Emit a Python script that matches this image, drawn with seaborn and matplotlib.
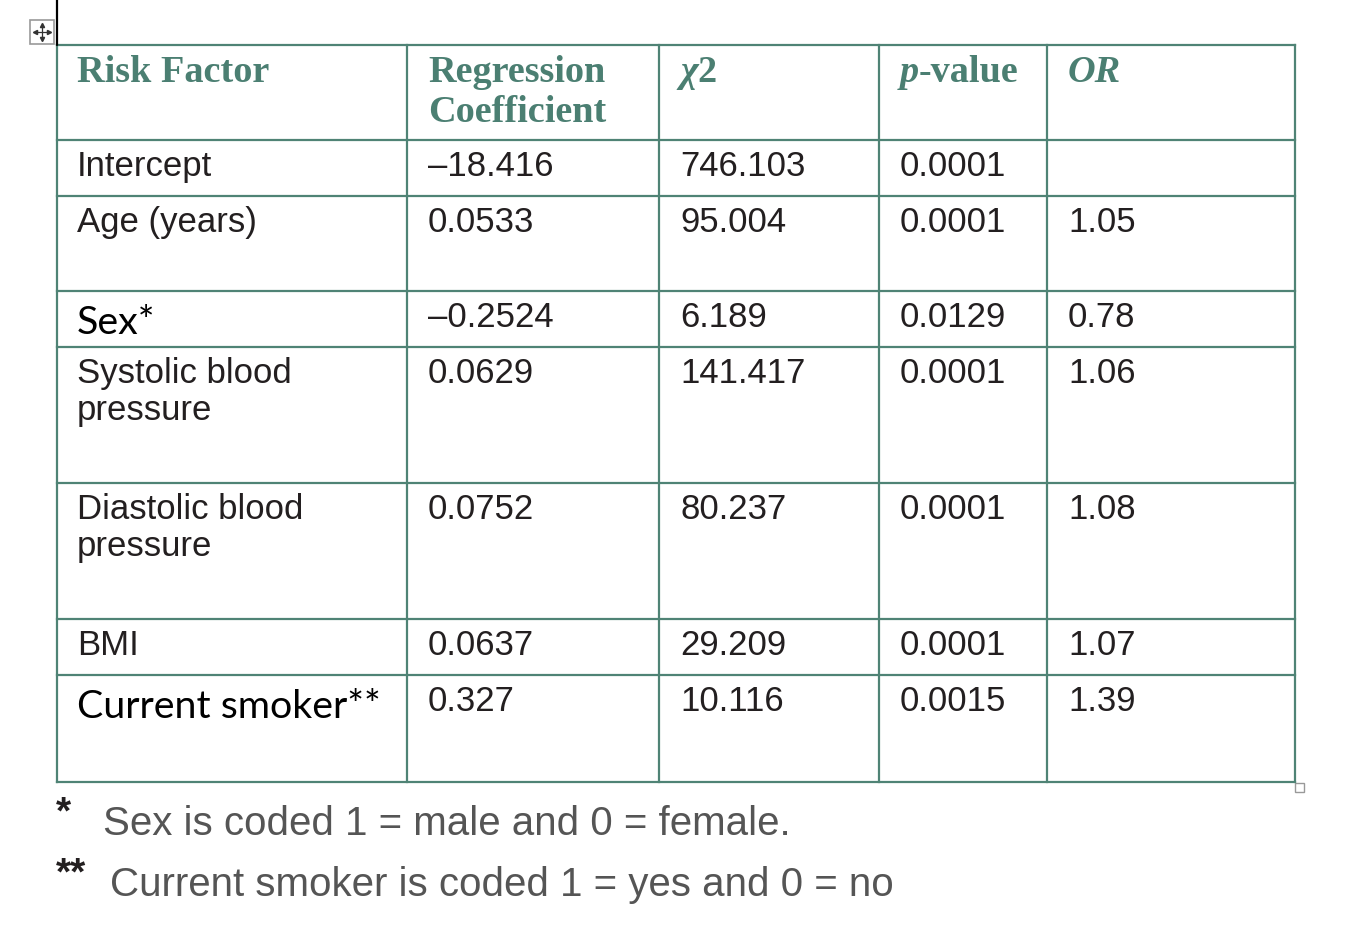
import matplotlib
matplotlib.use("Agg")
import matplotlib.pyplot as plt
import seaborn as sns

# table contents (kept as printed strings so the formatting stays the same)
headers = ["Risk Factor", "Regression\nCoefficient", "χ2", "p-value", "OR"]
risk_factors = ["Intercept", "Age (years)", "Sex*", "Systolic blood\npressure",
                "Diastolic blood\npressure", "BMI", "Current smoker**"]
coefficients = ["–18.416", "0.0533", "–0.2524", "0.0629", "0.0752", "0.0637", "0.327"]
chi_square = ["746.103", "95.004", "6.189", "141.417", "80.237", "29.209", "10.116"]
p_values = ["0.0001", "0.0001", "0.0129", "0.0001", "0.0001", "0.0001", "0.0015"]
odds_ratios = ["", "1.05", "0.78", "1.06", "1.08", "1.07", "1.39"]
footnotes = [("*", "Sex is coded 1 = male and 0 = female."),
             ("**", "Current smoker is coded 1 = yes and 0 = no")]

sns.set_theme(style="white")
plt.rcParams['font.family'] = ['Liberation Sans', 'DejaVu Sans']

teal = "#4b7f72"
grid_col = "#4f8375"
body_col = "#231f20"
note_col = "#555555"

W, H = 1351, 926
fig = plt.figure(figsize=(W / 100, H / 100), dpi=100)
ax = fig.add_axes([0, 0, 1, 1])
ax.set_xlim(0, W)
ax.set_ylim(H, 0)
ax.axis("off")

col_x = [57, 407, 659, 879, 1047, 1295]
row_y = [45, 140, 196, 291, 347, 483, 619, 675, 782]

# grid
for x in col_x:
    ax.plot([x, x], [row_y[0], row_y[-1]], color=grid_col, lw=1.6, solid_capstyle="projecting")
for y in row_y:
    ax.plot([col_x[0], col_x[-1]], [y, y], color=grid_col, lw=1.6, solid_capstyle="projecting")

# move handle and cursor line at the top left
ax.plot([57, 57], [0, 45], color="black", lw=1.6)
ax.add_patch(plt.Rectangle((30, 20), 24, 24, fill=False, ec="#999999", lw=1.2))
ax.plot([35, 49], [32, 32], color="#333333", lw=0.9)
ax.plot([42, 42], [25, 39], color="#333333", lw=0.9)
for mx, my, m in [(35, 32, "<"), (49, 32, ">"), (42, 25, "^"), (42, 39, "v")]:
    ax.plot(mx, my, marker=m, color="#333333", ms=3)
# resize handle at the bottom right
ax.add_patch(plt.Rectangle((1295, 783), 9, 9, fill=False, ec="#999999", lw=1))

renderer = fig.canvas.get_renderer()
inv = ax.transData.inverted()


def draw_runs(x, y, runs, **kw):
    # draw pieces of text one after another on one baseline
    for txt, style in runs:
        t = ax.text(x, y, txt, va="baseline", ha="left", **style, **kw)
        bb = t.get_window_extent(renderer)
        x = inv.transform((bb.x1, bb.y0))[0]


hfont = dict(family=["Liberation Serif", "DejaVu Serif"], fontsize=27.5, color=teal)
bold = dict(fontweight="bold")
bolditalic = dict(fontweight="bold", fontstyle="italic")

# header
hx = [c + 21 for c in col_x[:-1]]
draw_runs(hx[0] - 1, 82, [(headers[0], bold)], **hfont)
for i, line in enumerate(headers[1].split("\n")):
    draw_runs(hx[1], 82 + 40 * i, [(line, bold)], **hfont)
draw_runs(hx[2], 82, [("χ", bolditalic), ("2", bold)], **hfont)
draw_runs(hx[3], 82, [("p", bolditalic), ("-value", bold)], **hfont)
draw_runs(hx[4], 82, [(headers[4], bolditalic)], **hfont)

# body
calibri_like = {"Sex*", "Current smoker**"}
for r in range(len(risk_factors)):
    base = row_y[r + 1] + 36
    name = risk_factors[r]
    if name in calibri_like:
        ax.text(hx[0] - 1, base + 7, name, family=["Lato", "DejaVu Sans"], fontsize=28.4,
                color="black", va="baseline")
    else:
        for i, line in enumerate(name.split("\n")):
            ax.text(hx[0] - 1, base + 37 * i, line, fontsize=25, color=body_col, va="baseline")
    for c, col in enumerate([coefficients, chi_square, p_values, odds_ratios]):
        ax.text(hx[c + 1], base, col[r], fontsize=25, color=body_col, va="baseline")

# footnotes
for (mark, note), y, nx in zip(footnotes, [835, 896], [103, 110]):
    ax.text(56, y - 12, mark, fontsize=28, fontweight="bold", color=body_col, va="baseline")
    ax.text(nx, y, note, fontsize=29, color=note_col, va="baseline")

fig.savefig("out.png", dpi=100)
